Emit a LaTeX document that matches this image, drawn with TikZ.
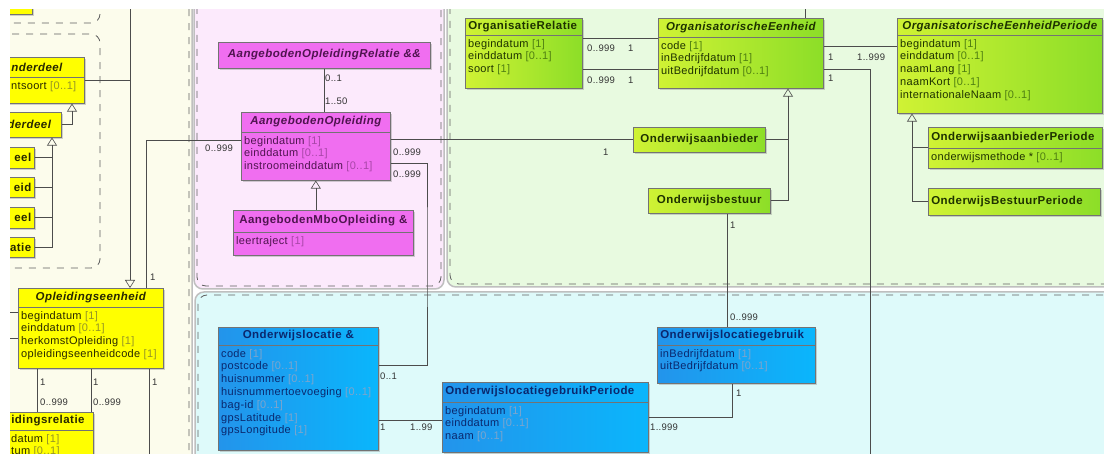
\documentclass[tikz,border=0pt]{standalone}
\usepackage{fontspec}
\setmainfont{Liberation Sans}
\newfontfamily\umlfont[LetterSpace=3]{Liberation Sans}
\newfontfamily\umlhead[LetterSpace=4]{Liberation Sans}
\usetikzlibrary{arrows.meta,shadows}

\definecolor{umlyellow}{RGB}{255,255,0}
\definecolor{umlpink}{RGB}{240,110,240}
\definecolor{greenA}{RGB}{208,242,52}
\definecolor{greenB}{RGB}{140,222,40}
\definecolor{blueA}{RGB}{35,148,235}
\definecolor{blueB}{RGB}{10,182,252}
\definecolor{pkgyellow}{RGB}{252,252,236}
\definecolor{pkgpink}{RGB}{252,234,252}
\definecolor{pkggreen}{RGB}{232,250,224}
\definecolor{pkgcyan}{RGB}{222,250,250}
\definecolor{ytext}{RGB}{40,40,0}
\definecolor{ptext}{RGB}{80,20,80}
\definecolor{gtext}{RGB}{30,50,0}
\definecolor{btext}{RGB}{10,40,110}
\definecolor{bmult}{RGB}{125,165,205}
\colorlet{multc}{gray}

\tikzstyle{Box}=[draw=black!55, line width=0.6pt, inner sep=0pt, drop shadow={shadow xshift=2pt, shadow yshift=-2pt, opacity=0.35}]
\tikzstyle{Yellow}=[Box, fill=umlyellow]
\tikzstyle{Pink}=[Box, fill=umlpink]
\tikzstyle{Green}=[Box, left color=greenA, right color=greenB]
\tikzstyle{Blue}=[Box, left color=blueA, right color=blueB]
\tikzstyle{YellowText}=[text=ytext, execute at begin node={\colorlet{multc}{ytext!45!umlyellow!70!gray}}]
\tikzstyle{PinkText}=[text=ptext, execute at begin node={\colorlet{multc}{ptext!45!umlpink}}]
\tikzstyle{GreenText}=[text=gtext, execute at begin node={\colorlet{multc}{gtext!55!greenB}}]
\tikzstyle{BlueText}=[text=btext, execute at begin node={\colorlet{multc}{bmult}}]
\tikzstyle{Title}=[font=\umlhead\fontsize{11.5}{13}\selectfont\bfseries, inner sep=0pt]
\tikzstyle{Attr}=[font=\umlfont\fontsize{11}{12.8}\selectfont, align=left, inner xsep=3pt, inner ysep=4pt, anchor=north west]
\tikzstyle{Mult}=[font=\umlfont\fontsize{9.5}{11}\selectfont, text=black!80, inner sep=0pt, anchor=west]
\tikzstyle{Line}=[draw=black!70, line width=0.6pt]
\tikzstyle{Gen}=[Line, -{Triangle[open, length=8pt, width=10pt]}]
\tikzstyle{Package}=[draw=gray!50, line width=1.5pt, rounded corners=9pt]
\tikzstyle{PackageDash}=[draw=gray!75!black, line width=0.8pt, dash pattern=on 7pt off 7pt, rounded corners=9pt]

\newcommand{\mlt}[1]{\textcolor{multc}{#1}}
% [title align]{name}{style}{x,y of top left}{width}{height}{header height}{title}{attributes}
\newcommand{\umlclass}[9][align=center]{%
  \node[#3, minimum width=#5pt, minimum height=#6pt, anchor=north west] (#2) at (#4) {};
  \pgfmathsetmacro{\twidth}{#5-6}
  \pgfmathsetmacro{\hhalf}{#7/2}
  \node[Title, #3Text, text width=\twidth pt, #1] (#2-t) at ([yshift=-\hhalf pt]#2.north) {#8};
  \draw[black!55, line width=0.6pt] ([yshift=-#7pt]#2.north west) -- ([yshift=-#7pt]#2.north east);
  \node[Attr, #3Text] (#2-a) at ([yshift=-#7pt]#2.north west) {#9};
}

\begin{document}
\begin{tikzpicture}[x=1pt, y=-1pt]
\useasboundingbox (0,0) rectangle (1104,454);
\fill[white] (0,0) rectangle (1104,454);
\begin{scope}
\clip (10,10) rectangle (1104,454);

% packages
\draw[Package, fill=pkgyellow] (-30,-30) rectangle (192,480);
\draw[PackageDash] (-30,-30) rectangle (189,480);
\draw[PackageDash] (-30,-30) rectangle (100,23);
\draw[PackageDash] (-30,34) rectangle (100,268);
\draw[Package, fill=pkgpink] (194,-30) rectangle (444,289);
\draw[PackageDash] (197,-30) rectangle (441,286);
\draw[Package, fill=pkggreen] (447,-30) rectangle (1130,287);
\draw[PackageDash] (450,-30) rectangle (1127,284);
\draw[Package, fill=pkgcyan] (195,292) rectangle (1130,480);
\draw[PackageDash] (198,295) rectangle (1127,480);

% bends and free ends
\coordinate (xA) at (130,0);
\coordinate (xB) at (72,0);
\coordinate (xC) at (52,0);
\coordinate (xD) at (146,0);
\coordinate (bC) at (427,250);
\coordinate (xE) at (788,0);
\coordinate (xF) at (805,0);
\coordinate (bF) at (870,470);
\coordinate (xG) at (912,0);
\coordinate (xH) at (727,0);
\coordinate (xI) at (732,0);
\coordinate (xJ) at (37,0);
\coordinate (xK) at (91,0);
\coordinate (bL) at (149,470);
\coordinate (eM) at (0,312);
\coordinate (eN) at (0,338);

% yellow
\umlclass{ytop}{Yellow}{6,-20}{26}{34}{34}{}{}
\umlclass[align=left]{nder}{Yellow}{8,57}{76}{46}{20}{\itshape nderdeel}{ntsoort \mlt{[0..1]}}
\umlclass[align=left]{nder2}{Yellow}{4,112}{57}{25}{25}{\itshape derdeel}{}
\umlclass[align=right]{sub1}{Yellow}{-20,147}{54}{21}{21}{eel}{}
\umlclass[align=right]{sub2}{Yellow}{-20,177}{54}{20}{20}{eid}{}
\umlclass[align=right]{sub3}{Yellow}{-20,207}{54}{21}{21}{eel}{}
\umlclass[align=right]{sub4}{Yellow}{-20,237}{54}{20}{20}{atie}{}
\umlclass{opl}{Yellow}{18,288}{145}{80}{19}{\itshape Opleidingseenheid}{begindatum \mlt{[1]}\\einddatum \mlt{[0..1]}\\herkomstOpleiding \mlt{[1]}\\opleidingseenheidcode \mlt{[1]}}
\umlclass[align=left]{rel}{Yellow}{8,412}{85}{60}{18}{idingsrelatie}{datum \mlt{[1]}\\tum \mlt{[0..1]}}

% pink
\umlclass{aorel}{Pink}{218,42}{212}{26}{26}{\itshape AangebodenOpleidingRelatie \&\&}{}
\umlclass{aopl}{Pink}{241,112}{149}{68}{20}{\itshape AangebodenOpleiding}{begindatum \mlt{[1]}\\einddatum \mlt{[0..1]}\\instroomeinddatum \mlt{[0..1]}}
\umlclass{ambo}{Pink}{233,210}{180}{45}{22}{AangebodenMboOpleiding \&}{leertraject \mlt{[1]}}

% green
\umlclass[align=left]{orel}{Green}{465,18}{117}{70}{17}{OrganisatieRelatie}{begindatum \mlt{[1]}\\einddatum \mlt{[0..1]}\\soort \mlt{[1]}}
\umlclass{oe}{Green}{658,18}{165}{70}{19}{\itshape OrganisatorischeEenheid}{code \mlt{[1]}\\inBedrijfdatum \mlt{[1]}\\uitBedrijfdatum \mlt{[0..1]}}
\umlclass{oep}{Green}{897,18}{205}{95}{17}{\itshape OrganisatorischeEenheidPeriode}{begindatum \mlt{[1]}\\einddatum \mlt{[0..1]}\\naamLang \mlt{[1]}\\naamKort \mlt{[0..1]}\\internationaleNaam \mlt{[0..1]}}
\umlclass{oab}{Green}{633,127}{132}{25}{25}{Onderwijsaanbieder}{}
\umlclass{obs}{Green}{648,188}{122}{25}{25}{Onderwijsbestuur}{}
\umlclass[align=left]{oabp}{Green}{928,127}{174}{41}{21}{OnderwijsaanbiederPeriode}{onderwijsmethode * \mlt{[0..1]}}
\umlclass[align=left]{obsp}{Green}{928,188}{172}{27}{27}{OnderwijsBestuurPeriode}{}

% blue
\umlclass{olok}{Blue}{218,327}{160}{123}{18}{Onderwijslocatie \&}{code \mlt{[1]}\\postcode \mlt{[0..1]}\\huisnummer \mlt{[0..1]}\\huisnummertoevoeging \mlt{[0..1]}\\bag-id \mlt{[0..1]}\\gpsLatitude \mlt{[1]}\\gpsLongitude \mlt{[1]}}
\umlclass[align=left]{olgp}{Blue}{442,382}{206}{70}{20}{OnderwijslocatiegebruikPeriode}{begindatum \mlt{[1]}\\einddatum \mlt{[0..1]}\\naam \mlt{[0..1]}}
\umlclass[align=left]{olg}{Blue}{657,327}{158}{56}{18}{Onderwijslocatiegebruik}{inBedrijfdatum \mlt{[1]}\\uitBedrijfdatum \mlt{[0..1]}}

% connectors
\draw[Gen] (xA) -- (opl.north -| xA);
\draw[Line] (nder.east) -- (nder.east -| xA);
\draw[Gen] (nder2.east) -| (nder.south -| xB);
\draw[Gen] (sub4.east) -| (nder2.south -| xC);
\foreach \s in {sub1,sub2,sub3}
  \draw[Line] (\s.east) -- (\s.east -| xC);
\draw[Line] ([yshift=-28pt]aopl.north west) -| (opl.north -| xD);
\draw[Line] (aopl.east |- oab.west) -- (oab.west);
\draw[Line] ([yshift=-51pt]aopl.north east) -| (bC) |- ([yshift=-38pt]olok.north east);
\draw[Line] (aorel.south) -- (aorel.south |- aopl.north);
\draw[Gen] (ambo.north -| aopl.south) -- (aopl.south);
\draw[Line] ([yshift=-20pt]orel.north east) -- ([yshift=-20pt]oe.north west);
\draw[Line] ([yshift=-51pt]orel.north east) -- ([yshift=-51pt]oe.north west);
\draw[Gen] (obs.east) -| (oe.south -| xE);
\draw[Line] (oab.east) -- (oab.east -| xE);
\draw[Line] (xF) -- (oe.north -| xF);
\draw[Line] ([yshift=-28pt]oe.north east) -- ([yshift=-28pt]oep.north west);
\draw[Line] ([yshift=-51pt]oe.north east) -| (bF);
\draw[Gen] (obsp.west) -| (oep.south -| xG);
\draw[Line] (oabp.west) -- (oabp.west -| xG);
\draw[Line] (obs.south -| xH) -- (olg.north -| xH);
\draw[Line] ([yshift=-93pt]olok.north east) -- ([yshift=-38pt]olgp.north west);
\draw[Line] ([yshift=-35pt]olgp.north east) -| (olg.south -| xI);
\draw[Line] (opl.south -| xJ) -- (rel.north -| xJ);
\draw[Line] (opl.south -| xK) -- (rel.north -| xK);
\draw[Line] (opl.south -| bL) -- (bL);
\draw[Line] (eM) -- (opl.west |- eM);
\draw[Line] (eN) -- (opl.west |- eN);

% multiplicities
\foreach \x/\y/\t [count=\i] in {150/277/1, 205/148/{0..999}, 393/152/{0..999}, 393/174/{0..999},
    603/152/1, 325/78/{0..1}, 325/101/{1..50}, 587/48/{0..999}, 628/48/1, 587/80/{0..999}, 628/80/1,
    828/57/1, 857/57/{1..999}, 828/78/1, 730/225/1, 730/317/{0..999}, 380/376/{0..1}, 380/427/1,
    410/427/{1..99}, 650/427/{1..999}, 736/393/1, 40/382/1, 40/402/{0..999}, 93/382/1,
    93/402/{0..999}, 152/382/1}
  \node[Mult] (m\i) at (\x,\y) {\t};
\end{scope}
\end{tikzpicture}
\end{document}
